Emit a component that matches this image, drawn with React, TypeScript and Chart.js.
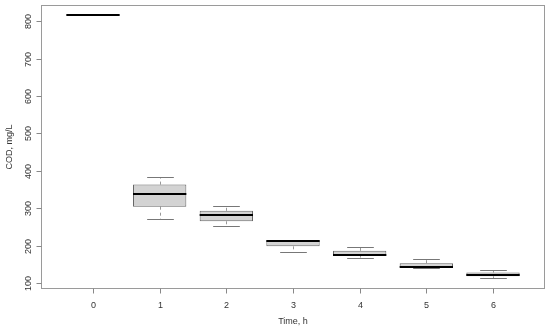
import React, { useEffect, useRef } from "react";
import { Chart, registerables } from "chart.js";

Chart.register(...registerables);

const categories = ["0", "1", "2", "3", "4", "5", "6"];
const whiskerLow = [815, 270, 252, 182, 168, 141, 113];
const q1 = [815, 304, 265, 198, 172, 143, 118];
const median = [815, 338, 281, 212, 175, 144, 122];
const q3 = [815, 363, 293, 214, 186, 153, 128];
const whiskerHigh = [815, 383, 305, 214, 197, 163, 134];
const yTicks = [100, 200, 300, 400, 500, 600, 700, 800];
const xTitle = "Time, h";
const yTitle = "COD, mg/L";

const FONT = "'Liberation Sans', Arial, sans-serif";

const boxPlugin = {
  id: "boxParts",
  beforeDatasetsDraw(chart: any) {
    const { ctx, scales } = chart;
    const xs = scales.x;
    const ys = scales.y;
    const unit = xs.getPixelForValue(1) - xs.getPixelForValue(0);
    ctx.save();
    ctx.lineWidth = 1;
    categories.forEach((_, i) => {
      const cx = Math.round(xs.getPixelForValue(i)) + 0.5;
      const capHalf = unit * 0.2;
      ctx.strokeStyle = "#999";
      ctx.setLineDash([3, 3]);
      ctx.beginPath();
      ctx.moveTo(cx, ys.getPixelForValue(q3[i]));
      ctx.lineTo(cx, ys.getPixelForValue(whiskerHigh[i]));
      ctx.moveTo(cx, ys.getPixelForValue(q1[i]));
      ctx.lineTo(cx, ys.getPixelForValue(whiskerLow[i]));
      ctx.stroke();
      ctx.setLineDash([]);
      ctx.strokeStyle = "#777";
      ctx.beginPath();
      const yh = Math.round(ys.getPixelForValue(whiskerHigh[i])) + 0.5;
      const yl = Math.round(ys.getPixelForValue(whiskerLow[i])) + 0.5;
      ctx.moveTo(cx - capHalf, yh);
      ctx.lineTo(cx + capHalf, yh);
      ctx.moveTo(cx - capHalf, yl);
      ctx.lineTo(cx + capHalf, yl);
      ctx.stroke();
    });
    ctx.restore();
  },
  afterDatasetsDraw(chart: any) {
    const { ctx, scales, chartArea } = chart;
    const xs = scales.x;
    const ys = scales.y;
    const unit = xs.getPixelForValue(1) - xs.getPixelForValue(0);
    ctx.save();
    ctx.strokeStyle = "#000";
    ctx.lineWidth = 2;
    ctx.lineCap = "butt";
    categories.forEach((_, i) => {
      const cx = xs.getPixelForValue(i);
      const y = Math.round(ys.getPixelForValue(median[i]));
      ctx.beginPath();
      ctx.moveTo(cx - unit * 0.4, y);
      ctx.lineTo(cx + unit * 0.4, y);
      ctx.stroke();
    });
    ctx.strokeStyle = "#9a9a9a";
    ctx.lineWidth = 1;
    const l = Math.round(chartArea.left) + 0.5;
    const r = Math.round(chartArea.right) - 0.5;
    const t = Math.round(chartArea.top) + 0.5;
    const b = Math.round(chartArea.bottom) - 0.5;
    ctx.strokeRect(l, t, r - l, b - t);
    ctx.strokeStyle = "#888";
    ctx.fillStyle = "#333";
    ctx.font = `9px ${FONT}`;
    ctx.textAlign = "center";
    ctx.textBaseline = "middle";
    categories.forEach((c, i) => {
      const x = Math.round(xs.getPixelForValue(i)) + 0.5;
      ctx.beginPath();
      ctx.moveTo(x, b);
      ctx.lineTo(x, b + 5);
      ctx.stroke();
      ctx.fillText(c, x, b + 17);
    });
    yTicks.forEach((v) => {
      const y = Math.round(ys.getPixelForValue(v)) + 0.5;
      ctx.beginPath();
      ctx.moveTo(l, y);
      ctx.lineTo(l - 5, y);
      ctx.stroke();
      ctx.save();
      ctx.translate(l - 13, y);
      ctx.rotate(-Math.PI / 2);
      ctx.fillText(String(v), 0, 0);
      ctx.restore();
    });
    ctx.fillText(xTitle, (l + r) / 2, b + 33);
    ctx.save();
    ctx.translate(10, (t + b) / 2);
    ctx.rotate(-Math.PI / 2);
    ctx.fillText(yTitle, 0, 0);
    ctx.restore();
    ctx.restore();
  },
};

export default function App() {
  const ref = useRef<HTMLCanvasElement>(null);
  useEffect(() => {
    if (!ref.current) return;
    const chart = new Chart(ref.current, {
      type: "bar",
      data: {
        datasets: [
          {
            data: categories.map((_, i) => ({ x: i, y: [q1[i], q3[i]] })) as any,
            backgroundColor: "#d3d3d3",
            borderColor: "#666",
            borderWidth: 1,
            borderSkipped: false,
            categoryPercentage: 1,
            barPercentage: 0.8,
          },
        ],
      },
      options: {
        animation: false,
        responsive: false,
        maintainAspectRatio: false,
        layout: { padding: { left: 41, right: 5, top: 5, bottom: 43 } },
        plugins: { legend: { display: false }, tooltip: { enabled: false } },
        scales: {
          x: {
            type: "linear",
            min: -0.78,
            max: 6.78,
            offset: false,
            display: false,
            afterBuildTicks: (scale: any) => {
              scale.ticks = categories.map((_, i) => ({ value: i }));
            },
          },
          y: { type: "linear", min: 84, max: 843, display: false },
        },
      },
      plugins: [boxPlugin],
    });
    return () => chart.destroy();
  }, []);
  return (
    <div style={{ position: "fixed", left: 0, top: 0, width: 550, height: 332, background: "#fff" }}>
      <canvas ref={ref} width={550} height={332} />
    </div>
  );
}
